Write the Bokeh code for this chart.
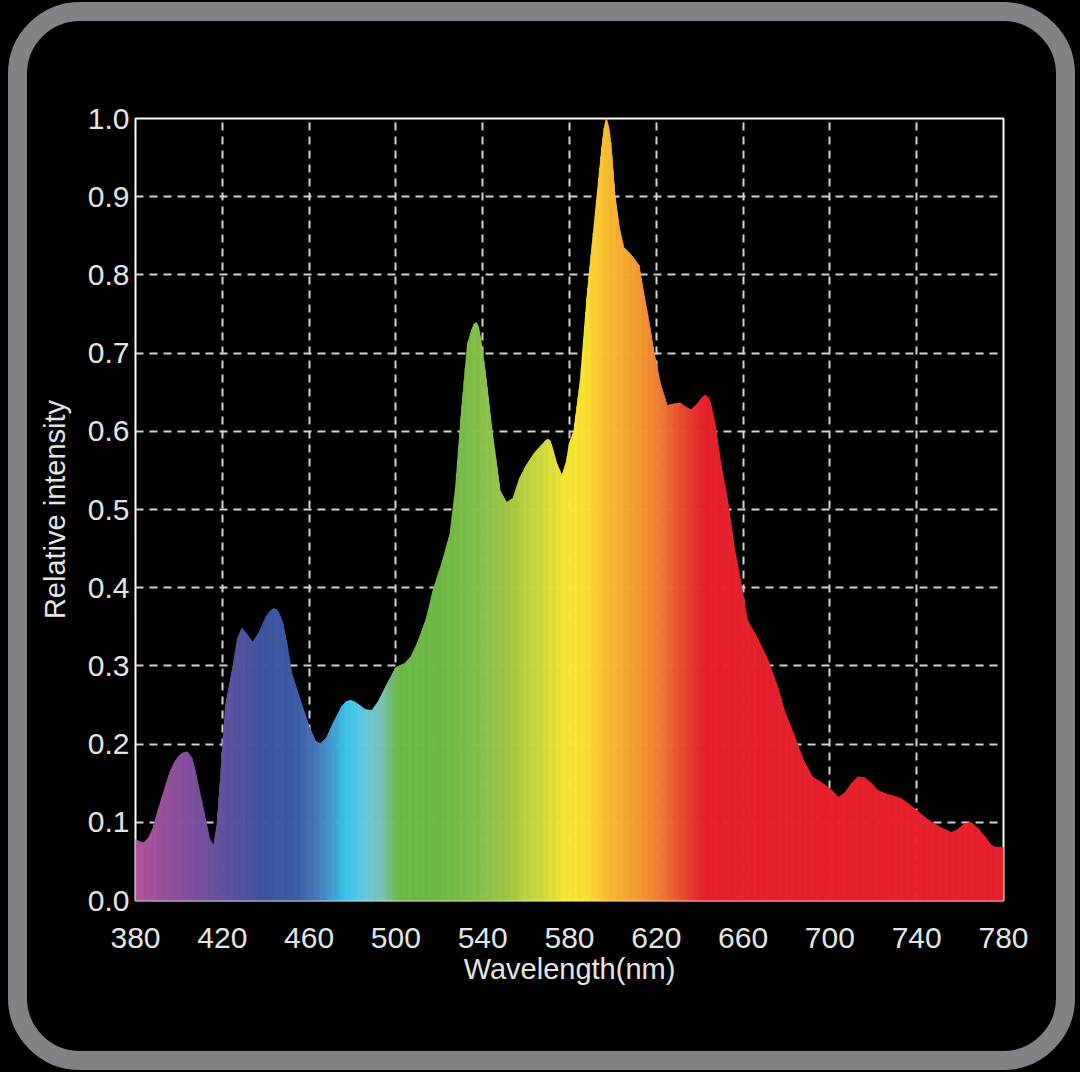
import numpy as np
from bokeh.plotting import figure
from bokeh.models import Range1d, FixedTicker
from bokeh.embed import file_html
from bokeh.resources import INLINE

# ---------------- data ----------------
wavelength = [380, 382, 384, 386, 388, 392, 396, 398, 400, 402, 404, 406, 408, 411, 414, 416,
              417.5, 419, 421.5, 425, 427, 429, 431, 434, 437, 440, 442, 443.5, 445, 446, 448,
              450, 452, 456, 460, 463, 465, 468, 471, 475, 477, 479, 481, 483, 486, 489, 492,
              496, 500, 504, 507, 510, 514, 517, 521, 525, 527.5, 530, 533, 535, 536, 537, 538,
              539, 541, 544.5, 548, 551, 554, 557, 560, 563.5, 567, 569, 570, 571, 572, 574,
              576.5, 578.5, 580, 582, 585, 588, 590.5, 593, 595, 596, 597, 598, 599, 601, 603,
              605, 608, 610, 612, 614, 616, 619, 622, 625, 628, 631, 636, 639.5, 641, 642.5, 644,
              645, 647, 649.5, 653, 656, 659, 662, 666.5, 671.5, 676, 679, 682, 685, 688, 692,
              696, 700, 704, 707, 710, 713, 716, 719, 722, 725, 729, 733, 737, 740, 744, 748, 752,
              756, 759, 762, 765, 768, 771, 774, 776, 780]
intensity = [0.078, 0.075, 0.074, 0.080, 0.092, 0.13, 0.165, 0.177, 0.185, 0.189, 0.19, 0.182,
             0.16, 0.12, 0.08, 0.070, 0.095, 0.15, 0.25, 0.30, 0.335, 0.348, 0.342, 0.330, 0.343,
             0.362, 0.370, 0.373, 0.372, 0.368, 0.354, 0.325, 0.29, 0.256, 0.222, 0.204, 0.200,
             0.208, 0.226, 0.248, 0.254, 0.256, 0.254, 0.250, 0.244, 0.243, 0.255, 0.277, 0.298,
             0.303, 0.312, 0.330, 0.36, 0.395, 0.43, 0.469, 0.528, 0.618, 0.712, 0.730, 0.737,
             0.739, 0.734, 0.72, 0.68, 0.597, 0.524, 0.509, 0.514, 0.54, 0.556, 0.571, 0.582,
             0.588, 0.59, 0.588, 0.58, 0.56, 0.543, 0.56, 0.585, 0.60, 0.665, 0.77, 0.84, 0.91,
             0.965, 0.988, 1.0, 0.99, 0.97, 0.90, 0.86, 0.835, 0.827, 0.82, 0.812, 0.78, 0.75,
             0.70, 0.66, 0.633, 0.635, 0.636, 0.627, 0.637, 0.643, 0.646, 0.643, 0.636, 0.61,
             0.563, 0.508, 0.451, 0.405, 0.358, 0.336, 0.307, 0.272, 0.243, 0.222, 0.20, 0.178,
             0.158, 0.151, 0.143, 0.132, 0.138, 0.150, 0.158, 0.157, 0.150, 0.141, 0.137, 0.134,
             0.130, 0.122, 0.115, 0.106, 0.098, 0.092, 0.087, 0.091, 0.098, 0.10, 0.093, 0.083,
             0.072, 0.068, 0.068]

x_ticks = [380, 420, 460, 500, 540, 580, 620, 660, 700, 740, 780]
y_ticks = [0.0, 0.1, 0.2, 0.3, 0.4, 0.5, 0.6, 0.7, 0.8, 0.9, 1.0]
y_tick_labels = ["0.0", "0.1", "0.2", "0.3", "0.4", "0.5", "0.6", "0.7", "0.8", "0.9", "1.0"]

# colour stops of the spectrum fill (wavelength, colour)
stop_nm = [380, 400, 420, 440, 455, 465, 478, 487, 494, 501, 520, 535, 550, 565, 578, 586,
           598, 611, 623, 633, 642, 780]
stop_col = ["#b4559f", "#8e529e", "#6553a0", "#3d56a3", "#3f5fa8", "#4a80c0", "#3ec8f0",
            "#70cce0", "#7dc4b5", "#6dbb4a", "#70bb48", "#80c04b", "#a0c84a", "#cbd940",
            "#f7e936", "#fde634", "#fbbd33", "#f7a033", "#f07a34", "#eb4832", "#e8232e",
            "#e8232e"]

FONT = "Liberation Sans"
TXT = "#e4e4e4"


def hex2rgb(h):
    return np.array([int(h[i:i + 2], 16) for i in (1, 3, 5)], dtype=float)


stop_rgb = np.array([hex2rgb(c) for c in stop_col])


def colour_at(nm):
    r = np.interp(nm, stop_nm, stop_rgb[:, 0])
    g = np.interp(nm, stop_nm, stop_rgb[:, 1])
    b = np.interp(nm, stop_nm, stop_rgb[:, 2])
    return "#%02x%02x%02x" % (int(round(r)), int(round(g)), int(round(b)))


# split each straight segment of the curve into thin slices so the fill can carry a gradient
xs, ys, cols = [], [], []
for i in range(len(wavelength) - 1):
    x0, x1 = wavelength[i], wavelength[i + 1]
    y0, y1 = intensity[i], intensity[i + 1]
    n = max(1, int(np.ceil((x1 - x0) / 0.5)))
    for k in range(n):
        ta, tb = k / n, (k + 1) / n
        xa, xb = x0 + (x1 - x0) * ta, x0 + (x1 - x0) * tb
        ya, yb = y0 + (y1 - y0) * ta, y0 + (y1 - y0) * tb
        xs.append([xa, xa, xb, xb])
        ys.append([0, ya, yb, 0])
        cols.append(colour_at((xa + xb) / 2))

p = figure(width=1080, height=1072, output_backend="svg", toolbar_location=None,
           x_range=Range1d(380, 780), y_range=Range1d(0, 1),
           min_border_left=135, min_border_right=77, min_border_top=118, min_border_bottom=172,
           background_fill_color="black", border_fill_color="black")

# page background and the rounded grey frame round the whole picture (decoration only)
try:
    from bokeh.models import GlobalInlineStyleSheet
    css = (
        "html, body { margin: 0; padding: 0; background: #000000; overflow: hidden; }\n"
        "body::after { content: ''; position: fixed; left: 8px; top: 2px; width: 1067px; "
        "height: 1068px; box-sizing: border-box; border: 19px solid #808285; "
        "border-radius: 72px; pointer-events: none; z-index: 10; }\n"
    )
    p.stylesheets = [GlobalInlineStyleSheet(css=css)]
except Exception:
    pass

p.patches(xs, ys, fill_color=cols, line_color=cols, line_width=0.8)

p.outline_line_color = "white"
p.outline_line_width = 2

for ax in (p.xaxis[0], p.yaxis[0]):
    ax.axis_line_color = None
    ax.major_tick_line_color = None
    ax.minor_tick_line_color = None
    ax.major_tick_in = 0
    ax.major_tick_out = 0
    ax.major_label_text_font = FONT
    ax.major_label_text_font_size = "30px"
    ax.major_label_text_color = TXT
    ax.axis_label_text_font = FONT
    ax.axis_label_text_font_size = "29px"
    ax.axis_label_text_font_style = "normal"
    ax.axis_label_text_color = TXT

p.xaxis.ticker = FixedTicker(ticks=x_ticks)
p.yaxis.ticker = FixedTicker(ticks=y_ticks)
p.yaxis.major_label_overrides = {t: s for t, s in zip(y_ticks, y_tick_labels)}
p.xaxis.axis_label = "Wavelength(nm)"
p.yaxis.axis_label = "Relative intensity"
p.xaxis.major_label_standoff = 27
p.yaxis.major_label_standoff = 6
p.xaxis.axis_label_standoff = 2
p.yaxis.axis_label_standoff = 14

for g in (p.xgrid[0], p.ygrid[0]):
    g.grid_line_color = "#d2d2d2"
    g.grid_line_width = 2
    g.grid_line_dash = "8 6"
p.xgrid.ticker = FixedTicker(ticks=x_ticks)
p.ygrid.ticker = FixedTicker(ticks=y_ticks)

open("out.html", "w").write(file_html(p, INLINE))
